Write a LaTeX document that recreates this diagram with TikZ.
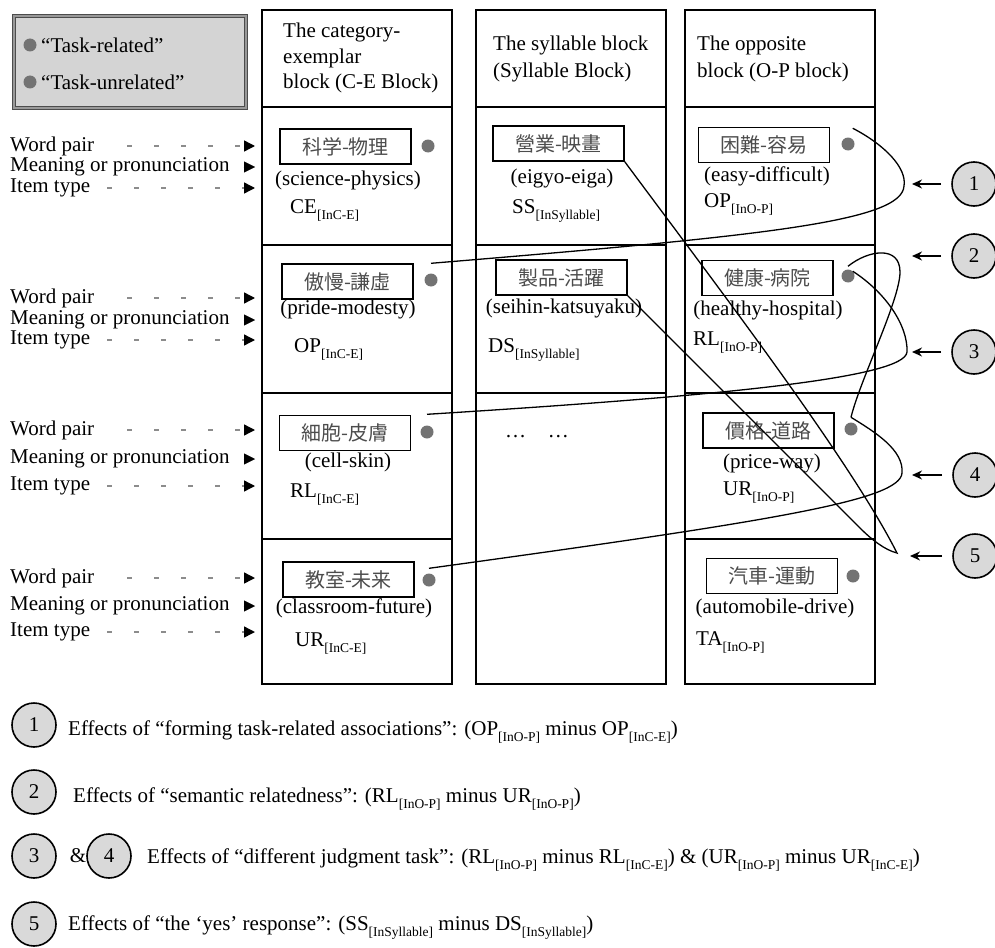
\documentclass[tikz,border=0pt]{standalone}
\usepackage{fontspec}
\setmainfont{Liberation Serif}
\newfontfamily\cjk{Noto Sans CJK JP}
\usetikzlibrary{arrows.meta}

\newcommand{\lowidx}[2]{#1\raisebox{-6pt}{\fontsize{13.5}{13.5}\selectfont #2}}

\begin{document}
\begin{tikzpicture}[x=1pt, y=-1pt,
	cell/.style={draw, line width=1.6pt},
	txt/.style={font=\fontsize{21}{26}\selectfont, inner sep=0pt},
	pair/.style={draw, line width=1.6pt, minimum width=131pt, minimum height=35pt, inner sep=0pt, text=black!70, font=\cjk\fontsize{20}{20}\selectfont},
	gdot/.style={circle, fill=black!55, minimum size=13pt, inner sep=0pt},
	effect/.style={circle, draw, line width=1.6pt, fill=black!15, minimum size=44pt, inner sep=0pt, font=\fontsize{21}{21}\selectfont},
	link/.style={line width=1.3pt},
	lbldash/.style={draw=black!45, line width=1.4pt, dash pattern=on 5pt off 22pt, -{Triangle[length=11pt, width=11pt, color=black]}},
	lblarrow/.style={-{Triangle[length=11pt, width=11pt]}},
	backarrow/.style={line width=1.8pt, -{Stealth[length=10pt, width=9pt]}}]
	\useasboundingbox (0,0) rectangle (995,947);
	\coordinate (k1) at (904,186);
	\coordinate (k2) at (900,272);
	\coordinate (k3) at (907,352);
	\coordinate (k4) at (902,473);
	\coordinate (k5) at (897,553);
	
	% Legend
	\filldraw[fill=black!17, draw=black!70, line width=1.5pt, double=black!40, double distance=1.5pt] (14,16) rectangle (246,108);
	\node[gdot] (lg1) at (30,45) {};
	\node[gdot] (lg2) at (30,82) {};
	\node[txt, anchor=west] (lt1) at (41,45) {“Task-related”};
	\node[txt, anchor=west] (lt2) at (41,82) {“Task-unrelated”};
	
	% Row labels
	\foreach \r/\ya/\yb/\yc in {1/146/167/188, 2/298/320/340, 3/430/459/486, 4/578/606/632} {
		\node[txt, anchor=west] (wp\r) at (10,\ya) {Word pair};
		\node[txt, anchor=west] (mp\r) at (10,\yb) {Meaning or pronunciation};
		\node[txt, anchor=west] (it\r) at (10,\yc) {Item type};
		\draw[lbldash] ([xshift=33pt]wp\r.east) -- (255,\ya);
		\draw[lblarrow] ([xshift=14pt]mp\r.east) -- (255,\yb);
		\draw[lbldash] ([xshift=17pt]it\r.east) -- (255,\yc);
	}
	
	% Blocks
	\draw[cell] (262,10) rectangle (452,684);
	\draw[cell] (476,10) rectangle (666,684);
	\draw[cell] (685,10) rectangle (875,684);
	\foreach \y in {107,245,393,539} \draw[cell] (262,\y) -- (452,\y);
	\foreach \y in {107,245,393} \draw[cell] (476,\y) -- (666,\y);
	\foreach \y in {107,245,393,539} \draw[cell] (685,\y) -- (875,\y);
	\node[txt, anchor=west, align=left, font=\fontsize{21}{25.5}\selectfont] (hce) at (283,58) {The category-\\exemplar\\block (C-E Block)};
	\node[txt, anchor=west, align=left, font=\fontsize{21}{27}\selectfont] (hsy) at (493,58.5) {The syllable block\\(Syllable Block)};
	\node[txt, anchor=west, align=left, font=\fontsize{21}{27}\selectfont] (hop) at (697,58.5) {The opposite\\block (O-P block)};
	
	% C-E block
	\node[pair] (b11) at (345.5,146.5) {科学-物理};
	\node[gdot] (d11) at (428,146) {};
	\node[txt] (p11) at (348,180) {(science-physics)};
	\node[txt, anchor=base west] (t11) at (290,213) {\lowidx{CE}{[InC-E]}};
	\node[pair] (b21) at (347.5,281.5) {傲慢-謙虛};
	\node[gdot] (d21) at (431,280) {};
	\node[txt] (p21) at (348,309) {(pride-modesty)};
	\node[txt, anchor=base west] (t21) at (294,352) {\lowidx{OP}{[InC-E]}};
	\node[pair] (b31) at (345,433) {細胞-皮膚};
	\node[gdot] (d31) at (427,432) {};
	\node[txt] (p31) at (348,462) {(cell-skin)};
	\node[txt, anchor=base west] (t31) at (290,497) {\lowidx{RL}{[InC-E]}};
	\node[pair] (b41) at (348.5,579.5) {教室-未来};
	\node[gdot] (d41) at (429,580) {};
	\node[txt] (p41) at (354,608) {(classroom-future)};
	\node[txt, anchor=base west] (t41) at (295,646) {\lowidx{UR}{[InC-E]}};
	
	% Syllable block
	\node[pair] (b12) at (558.5,143.5) {營業-映畫};
	\node[txt] (p12) at (562,178) {(eigyo-eiga)};
	\node[txt, anchor=base west] (t12) at (512,213) {\lowidx{SS}{[InSyllable]}};
	\node[pair] (b22) at (561.5,277.5) {製品-活躍};
	\node[txt] (p22) at (564,308) {(seihin-katsuyaku)};
	\node[txt, anchor=base west] (t22) at (488,352) {\lowidx{DS}{[InSyllable]}};
	\node[txt, anchor=base] (etc) at (537,437) {…\hspace{22pt}…};
	
	% O-P block
	\node[pair] (b13) at (764,145) {困難-容易};
	\node[gdot] (d13) at (848,144) {};
	\node[txt] (p13) at (767,176) {(easy-difficult)};
	\node[txt, anchor=base west] (t13) at (704,207) {\lowidx{OP}{[InO-P]}};
	\node[pair] (b23) at (767.5,278) {健康-病院};
	\node[gdot] (d23) at (848,276) {};
	\node[txt] (p23) at (768,310) {(healthy-hospital)};
	\node[txt, anchor=base west] (t23) at (693,345) {\lowidx{RL}{[InO-P]}};
	\node[pair] (b33) at (768.5,430.5) {價格-道路};
	\node[gdot] (d33) at (851,429) {};
	\node[txt] (p33) at (772,463) {(price-way)};
	\node[txt, anchor=base west] (t33) at (723,495) {\lowidx{UR}{[InO-P]}};
	\node[pair] (b43) at (772,576) {汽車-運動};
	\node[gdot] (d43) at (853,576) {};
	\node[txt] (p43) at (775,608) {(automobile-drive)};
	\node[txt, anchor=base west] (t43) at (696,645) {\lowidx{TA}{[InO-P]}};
	
	% Comparisons
	\draw[link] ([yshift=11pt]d13.north east) .. controls (885,145) and (907,168) .. (k1) .. controls (902,222) and (760,236) .. ([yshift=10pt]d21.north);
	\draw[link] ([yshift=3pt]d23.north) .. controls (868,250) and (900,245) .. (k2) .. controls (900,300) and (860,380) .. ([yshift=5pt]d33.north);
	\draw[link] (d23.north east) .. controls (885,292) and (908,325) .. (k3) .. controls (905,378) and (720,396) .. ([yshift=11pt]d31.north);
	\draw[link] ([yshift=5pt]d33.north) .. controls (875,432) and (904,450) .. (k4) .. controls (900,500) and (780,520) .. ([yshift=5pt]d41.north);
	\draw[link] (b12.south east) .. controls (720,290) and (850,460) .. (k5) .. controls (885,550) and (872,540) .. (860,528) -- (b22.south east);
	
	% Effect markers
	\node[effect] (e1) at (974,184) {1};
	\node[effect] (e2) at (974,256) {2};
	\node[effect] (e3) at (974,352) {3};
	\node[effect] (e4) at (975,475) {4};
	\node[effect] (e5) at (975,556) {5};
	\coordinate (a1) at (912,184);
	\coordinate (a2) at (912,256);
	\coordinate (a3) at (912,352);
	\coordinate (a4) at (912,475);
	\coordinate (a5) at (910,556);
	\foreach \i in {1,...,5} \draw[backarrow] ([xshift=-10pt]e\i.west) -- (a\i);
	
	% Effects
	\node[effect] (f1) at (34,725) {1};
	\node[txt, anchor=base west] (l1) at (68,735) {Effects of “forming task-related associations”: (\lowidx{OP}{[InO-P]} minus \lowidx{OP}{[InC-E]})};
	\node[effect] (f2) at (34,792) {2};
	\node[txt, anchor=base west] (l2) at (73,802) {Effects of “semantic relatedness”: (\lowidx{RL}{[InO-P]} minus \lowidx{UR}{[InO-P]})};
	\node[effect] (f3) at (34,856) {3};
	\node[txt] (amp) at (78,856) {\&};
	\node[effect] (f4) at (109,856) {4};
	\node[txt, anchor=base west] (l3) at (147,863) {Effects of “different judgment task”: (\lowidx{RL}{[InO-P]} minus \lowidx{RL}{[InC-E]}) \& (\lowidx{UR}{[InO-P]} minus \lowidx{UR}{[InC-E]})};
	\node[effect] (f5) at (34,924) {5};
	\node[txt, anchor=base west] (l5) at (68,930) {Effects of “the ‘yes’ response”: (\lowidx{SS}{[InSyllable]} minus \lowidx{DS}{[InSyllable]})};
\end{tikzpicture}
\end{document}
